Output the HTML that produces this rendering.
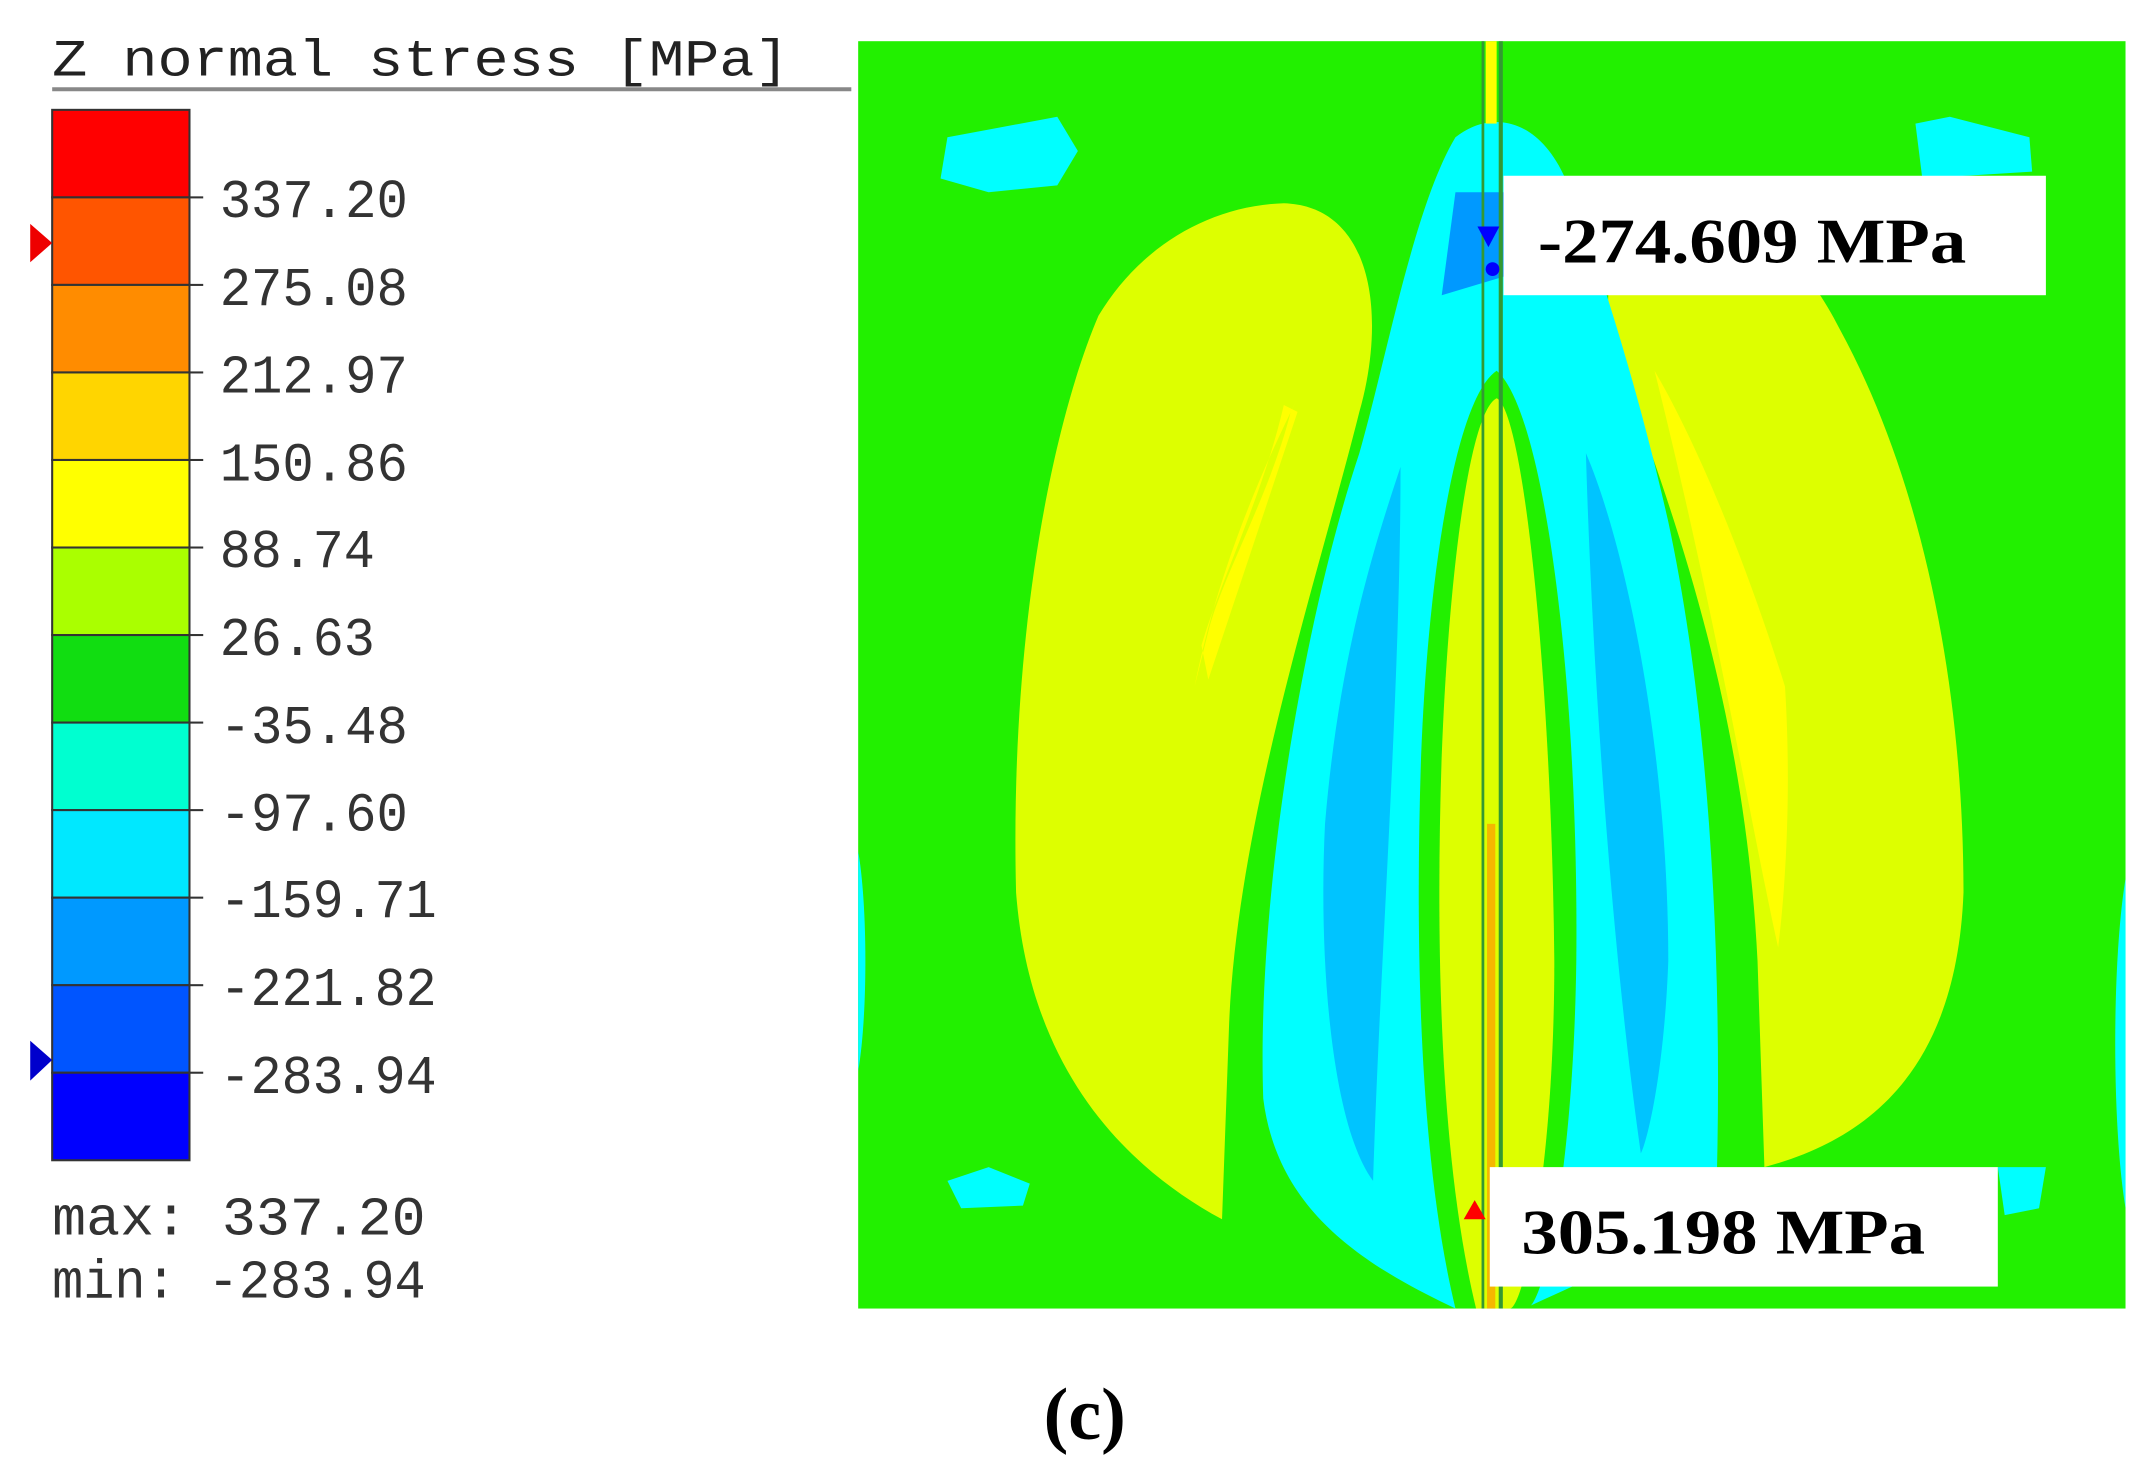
<!DOCTYPE html>
<html><head><meta charset="utf-8"><style>html,body{margin:0;padding:0;background:#fff}svg{display:block}</style></head>
<body>
<svg width="2142" height="1467" viewBox="0 0 1560 1068.4" xmlns="http://www.w3.org/2000/svg">
<rect width="1560" height="1068.4" fill="#fff"/>
<!-- legend -->
<text x="38" y="55" font-family="Liberation Mono, monospace" font-size="38" textLength="537" lengthAdjust="spacingAndGlyphs" fill="#222">Z normal stress [MPa]</text>
<line x1="38" y1="65" x2="620" y2="65" stroke="#888" stroke-width="3"/>
<g stroke="#333" stroke-width="1.5">
<rect x="38" y="80" width="100" height="63.75" fill="#ff0000"/>
<rect x="38" y="143.75" width="100" height="63.75" fill="#ff5500"/>
<rect x="38" y="207.5" width="100" height="63.75" fill="#ff8c00"/>
<rect x="38" y="271.25" width="100" height="63.75" fill="#ffd500"/>
<rect x="38" y="335" width="100" height="63.75" fill="#ffff00"/>
<rect x="38" y="398.75" width="100" height="63.75" fill="#aaff00"/>
<rect x="38" y="462.5" width="100" height="63.75" fill="#11dd11"/>
<rect x="38" y="526.25" width="100" height="63.75" fill="#00ffd0"/>
<rect x="38" y="590" width="100" height="63.75" fill="#00e8ff"/>
<rect x="38" y="653.75" width="100" height="63.75" fill="#0099ff"/>
<rect x="38" y="717.5" width="100" height="63.75" fill="#0055ff"/>
<rect x="38" y="781.25" width="100" height="63.75" fill="#0000ff"/>
</g>
<g stroke="#333" stroke-width="1.5">
<line x1="138" y1="143.75" x2="148" y2="143.75"/><line x1="138" y1="207.5" x2="148" y2="207.5"/><line x1="138" y1="271.25" x2="148" y2="271.25"/><line x1="138" y1="335" x2="148" y2="335"/><line x1="138" y1="398.75" x2="148" y2="398.75"/><line x1="138" y1="462.5" x2="148" y2="462.5"/><line x1="138" y1="526.25" x2="148" y2="526.25"/><line x1="138" y1="590" x2="148" y2="590"/><line x1="138" y1="653.75" x2="148" y2="653.75"/><line x1="138" y1="717.5" x2="148" y2="717.5"/><line x1="138" y1="781.25" x2="148" y2="781.25"/>
</g>
<polygon points="22,163 38,177 22,191" fill="#e00"/>
<polygon points="22,758 38,772 22,787" fill="#00c"/>
<g font-family="Liberation Mono, monospace" font-size="40" fill="#333" lengthAdjust="spacingAndGlyphs">
<text x="160" y="158" textLength="137" lengthAdjust="spacingAndGlyphs">337.20</text>
<text x="160" y="222" textLength="137" lengthAdjust="spacingAndGlyphs">275.08</text>
<text x="160" y="286" textLength="137" lengthAdjust="spacingAndGlyphs">212.97</text>
<text x="160" y="350" textLength="137" lengthAdjust="spacingAndGlyphs">150.86</text>
<text x="160" y="413" textLength="113" lengthAdjust="spacingAndGlyphs">88.74</text>
<text x="160" y="477" textLength="113" lengthAdjust="spacingAndGlyphs">26.63</text>
<text x="160" y="541" textLength="137" lengthAdjust="spacingAndGlyphs">-35.48</text>
<text x="160" y="605" textLength="137" lengthAdjust="spacingAndGlyphs">-97.60</text>
<text x="160" y="668" textLength="158" lengthAdjust="spacingAndGlyphs">-159.71</text>
<text x="160" y="732" textLength="158" lengthAdjust="spacingAndGlyphs">-221.82</text>
<text x="160" y="796" textLength="158" lengthAdjust="spacingAndGlyphs">-283.94</text>
<text x="38" y="899" textLength="272" lengthAdjust="spacingAndGlyphs">max:  337.20</text>
<text x="38" y="945" textLength="272" lengthAdjust="spacingAndGlyphs">min: -283.94</text>
</g>
<!-- plot -->
<rect x="625" y="30" width="923" height="923" fill="#22f000"/>
<path d="M935,148 C1000,150 1010,230 990,300 C960,420 900,600 895,750 L890,888 C820,850 750,780 740,650 C735,450 770,300 800,230 C830,180 880,150 935,148 Z" fill="#ddff00"/>
<path d="M1175,145 C1240,140 1300,160 1340,240 C1400,350 1430,500 1430,650 C1425,780 1360,830 1285,850 L1280,700 C1270,500 1210,350 1170,240 Z" fill="#ddff00"/>
<path d="M940,300 C925,360 890,420 880,460 L870,500 C880,450 900,380 945,290 Z M935,295 C920,360 890,420 875,470 L880,495 C905,420 925,360 945,300 Z" fill="#ffff00"/>
<path d="M1205,270 C1240,330 1275,420 1300,500 C1305,580 1300,650 1295,690 C1275,600 1250,450 1205,270 Z" fill="#ffff00"/>
<path d="M1060,100 C1085,80 1120,85 1140,130 C1160,180 1190,270 1215,380 C1245,520 1255,700 1250,870 C1230,900 1160,930 1110,953 L1060,953 C990,920 930,880 920,800 C915,650 950,450 990,330 C1010,260 1030,150 1060,100 Z" fill="#00ffff"/>
<path d="M1020,340 C1020,500 1005,700 1000,860 C970,820 960,700 965,600 C975,480 1000,400 1020,340 Z" fill="#00c4ff"/>
<path d="M1155,330 C1185,400 1215,550 1215,700 C1212,780 1200,830 1195,840 C1175,700 1160,500 1155,330 Z" fill="#00c4ff"/>
<path d="M1060,140 L1100,140 L1100,200 L1050,215 Z" fill="#0099ff"/>
<path d="M1090,270 C1125,300 1150,500 1148,700 C1146,850 1125,950 1112,953 L1060,953 C1035,850 1030,700 1035,550 C1040,420 1060,290 1090,270 Z" fill="#22f000"/>
<path d="M1090,290 C1110,300 1130,500 1132,700 C1132,850 1110,950 1100,953 L1075,953 C1050,850 1045,700 1050,550 C1055,420 1070,300 1090,290 Z" fill="#ddff00"/>
<rect x="1082" y="30" width="8" height="60" fill="#ffff00"/>
<rect x="1083" y="600" width="6" height="353" fill="#ff9900" opacity="0.7"/>
<line x1="1080" y1="30" x2="1080" y2="953" stroke="#339933" stroke-width="2"/>
<line x1="1093" y1="30" x2="1093" y2="953" stroke="#339933" stroke-width="3"/>
<path d="M690,100 L770,85 L785,110 L770,135 L720,140 L685,130 Z" fill="#00ffff"/>
<path d="M1395,90 L1420,85 L1478,100 L1480,125 L1400,130 Z" fill="#00ffff"/>
<path d="M690,860 L720,850 L750,862 L745,878 L700,880 Z" fill="#00ffff"/>
<path d="M1455,850 L1490,850 L1485,880 L1460,885 Z" fill="#00ffff"/>
<path d="M625,620 C632,660 632,740 625,780 Z" fill="#00ffff"/>
<path d="M1548,640 C1538,700 1538,820 1548,880 Z" fill="#00ffff"/>
<polygon points="1076,165 1092,165 1084,180" fill="#0000ff"/>
<circle cx="1087" cy="196" r="5" fill="#0000ff"/>
<polygon points="1066,888 1082,888 1074,874" fill="#ff0000"/>
<rect x="1095" y="128" width="395" height="87" fill="#fff"/>
<rect x="1085" y="850" width="370" height="87" fill="#fff"/>
<g font-family="Liberation Serif, serif" font-weight="bold" font-size="46" fill="#000">
<text x="1120" y="191" textLength="312" lengthAdjust="spacingAndGlyphs">-274.609 MPa</text>
<text x="1108" y="913" textLength="294" lengthAdjust="spacingAndGlyphs">305.198 MPa</text>
</g>
<text x="790" y="1048" text-anchor="middle" font-family="Liberation Serif, serif" font-weight="bold" font-size="54" fill="#000">(c)</text>
</svg>
</body></html>
